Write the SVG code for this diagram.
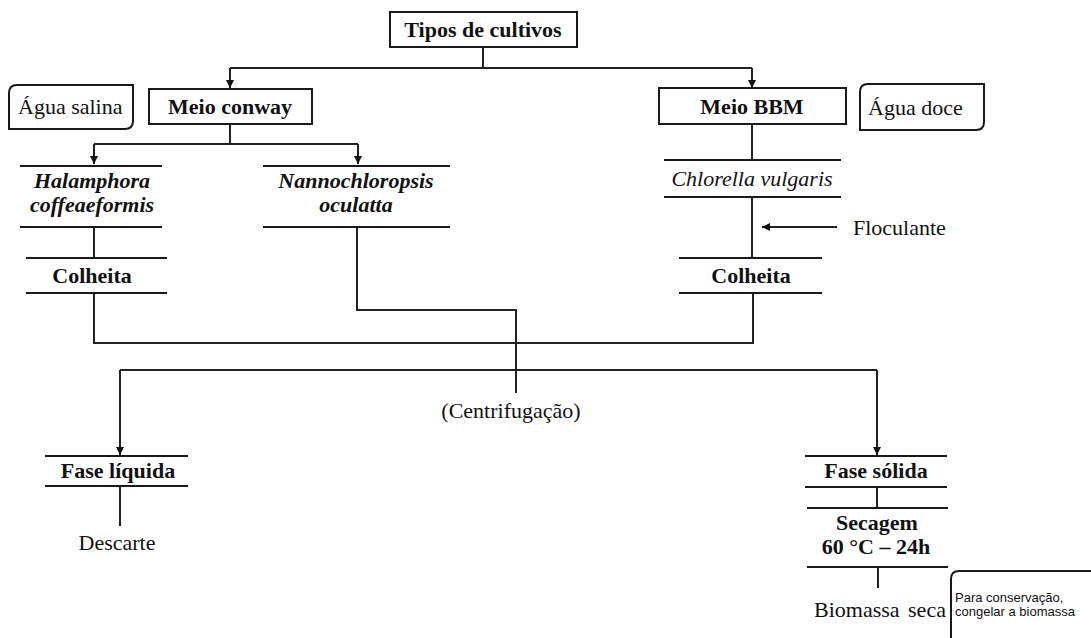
<svg xmlns="http://www.w3.org/2000/svg" width="1091" height="638" viewBox="0 0 1091 638">
<style>
  .bg{fill:#fff}
  .box{fill:#fff;stroke:#1a1a1a;stroke-width:2}
  .ln{fill:none;stroke:#1a1a1a;stroke-width:2}
  .cn{fill:none;stroke:#222;stroke-width:2}
  .b{font-family:"Liberation Serif","Times New Roman",serif;font-size:22px;font-weight:bold;fill:#111;text-anchor:middle}
  .bi{font-family:"Liberation Serif","Times New Roman",serif;font-size:22px;font-weight:bold;font-style:italic;fill:#111;text-anchor:middle}
  .i{font-family:"Liberation Serif","Times New Roman",serif;font-size:22px;font-style:italic;fill:#111;text-anchor:middle}
  .r{font-family:"Liberation Serif","Times New Roman",serif;font-size:22px;fill:#111}
  .s{font-family:"Liberation Sans",Arial,sans-serif;font-size:13px;fill:#111}
</style>
<defs>
  <marker id="ah" viewBox="0 0 8 10" refX="8" refY="5" markerWidth="8" markerHeight="10" markerUnits="userSpaceOnUse" orient="auto">
    <path d="M0,1 L8,5 L0,9 Z" fill="#111"/>
  </marker>
</defs>
<rect class="bg" x="0" y="0" width="1091" height="638"/>

<g id="connectors">
  <path class="cn" d="M483,47 V68 M230,68 H752"/>
  <path class="cn" d="M230,68 V88" marker-end="url(#ah)"/>
  <path class="cn" d="M752,68 V88" marker-end="url(#ah)"/>
  <path class="cn" d="M230,124 V144 M94,144 H358"/>
  <path class="cn" d="M94,144 V164" marker-end="url(#ah)"/>
  <path class="cn" d="M358,144 V164" marker-end="url(#ah)"/>
  <path class="cn" d="M752,124 V160"/>
  <path class="cn" d="M94,227 V258"/>
  <path class="cn" d="M752,197 V258"/>
  <path class="cn" d="M837,227 H762" marker-end="url(#ah)"/>
  <path class="cn" d="M94,293 V343 H753 V293"/>
  <path class="cn" d="M357,227 V310 H516 V393"/>
  <path class="cn" d="M120,370 H877"/>
  <path class="cn" d="M120,370 V455" marker-end="url(#ah)"/>
  <path class="cn" d="M877,370 V455" marker-end="url(#ah)"/>
  <path class="cn" d="M120,486 V526"/>
  <path class="cn" d="M877,486 V508"/>
  <path class="cn" d="M878,567 V588"/>
</g>

<g id="tipos">
  <rect class="box" x="390" y="12" width="187" height="35"/>
  <text class="b" x="483" y="37">Tipos de cultivos</text>
</g>
<g id="agua-salina">
  <path class="box" d="M9,129 V93 Q9,85 17,85 H133 V121 Q133,129 125,129 Z"/>
  <text class="r" x="18" y="114">Água salina</text>
</g>
<g id="meio-conway">
  <rect class="box" x="149" y="89" width="163" height="35"/>
  <text class="b" x="230" y="114">Meio conway</text>
</g>
<g id="meio-bbm">
  <rect class="box" x="659" y="88" width="187" height="36"/>
  <text class="b" x="752" y="114">Meio BBM</text>
</g>
<g id="agua-doce">
  <path class="box" d="M860,130 V92 Q860,84 868,84 H984 V122 Q984,130 976,130 Z"/>
  <text class="r" x="868" y="115">Água doce</text>
</g>
<g id="halamphora">
  <path class="ln" d="M20,166 H162 M20,227 H162"/>
  <text class="bi" x="92" y="188">Halamphora</text>
  <text class="bi" x="92" y="212">coffeaeformis</text>
</g>
<g id="nannochloropsis">
  <path class="ln" d="M263,166 H450 M263,227 H450"/>
  <text class="bi" x="356" y="188">Nannochloropsis</text>
  <text class="bi" x="356" y="212">oculatta</text>
</g>
<g id="chlorella">
  <path class="ln" d="M664,160 H841 M664,197 H841"/>
  <text class="i" x="752" y="186">Chlorella vulgaris</text>
</g>
<g id="floculante">
  <text class="r" x="853" y="235">Floculante</text>
</g>
<g id="colheita-esq">
  <path class="ln" d="M26,258 H167 M26,293 H167"/>
  <text class="b" x="92" y="283">Colheita</text>
</g>
<g id="colheita-dir">
  <path class="ln" d="M679,258 H822 M679,293 H822"/>
  <text class="b" x="751" y="283">Colheita</text>
</g>
<g id="centrifugacao">
  <text class="r" x="511" y="418" text-anchor="middle">(Centrifugação)</text>
</g>
<g id="fase-liquida">
  <path class="ln" d="M45,456 H188 M45,486 H188"/>
  <text class="b" x="118" y="478">Fase líquida</text>
</g>
<g id="descarte">
  <text class="r" x="117" y="550" text-anchor="middle">Descarte</text>
</g>
<g id="fase-solida">
  <path class="ln" d="M805,456 H947 M805,487 H947"/>
  <text class="b" x="876" y="478">Fase sólida</text>
</g>
<g id="secagem">
  <path class="ln" d="M807,508 H948 M807,567 H948"/>
  <text class="b" x="877" y="530">Secagem</text>
  <text class="b" x="876" y="554">60 °C – 24h</text>
</g>
<g id="biomassa">
  <text class="r" x="814" y="617" word-spacing="3">Biomassa seca</text>
</g>
<g id="nota">
  <path class="box" d="M951,642 V579 Q951,571 959,571 H1096"/>
  <text class="s" x="955" y="602">Para conservação,</text>
  <text class="s" x="955" y="616">congelar a biomassa</text>
</g>
</svg>
